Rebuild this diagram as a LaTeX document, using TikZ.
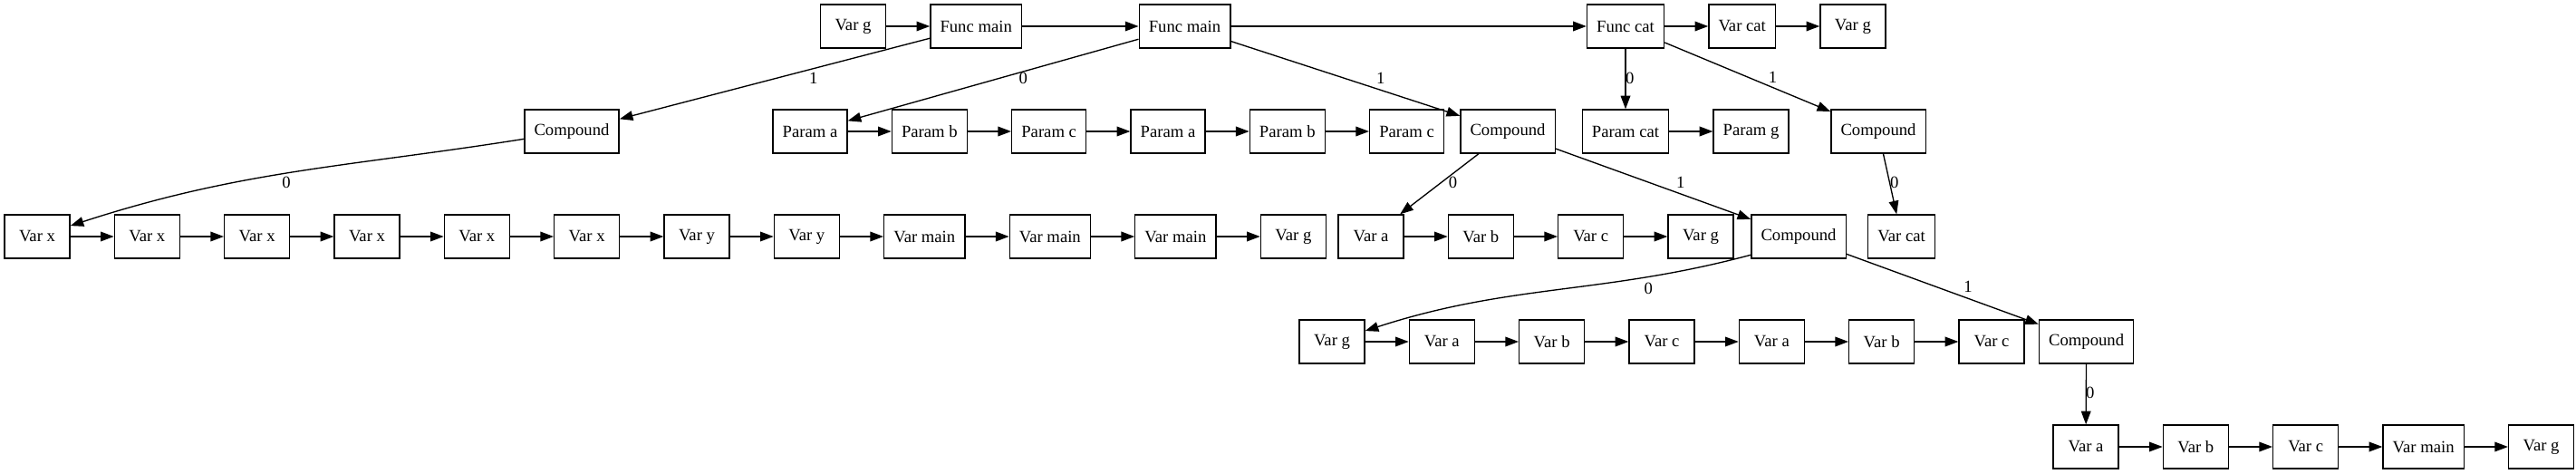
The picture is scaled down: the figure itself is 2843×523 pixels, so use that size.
\documentclass[tikz,border=0pt]{standalone}
\usepackage{fontspec}
\setmainfont{Liberation Serif}
\usetikzlibrary{positioning,arrows.meta}

\begin{document}
\begin{tikzpicture}[x=0.75pt, y=-0.75pt, line width=1pt, node distance=36pt,
  font=\fontsize{14}{17}\selectfont,
  box/.style={draw, rectangle, minimum width=54pt, minimum height=36pt, inner xsep=8pt},
  lbl/.style={inner sep=0pt},
  >={Triangle[length=11pt,width=8pt]}]
 \useasboundingbox (0,0) rectangle (2843,523);
 % row 1
 \node[box] (vg0) at (941.5,29) {Var g};
 \node[box, right=of vg0] (fm1) {Func main};
 \node[box] (fm2) at (1307.5,29) {Func main};
 \node[box] (fcat) at (1794,29) {Func cat};
 \node[box, right=of fcat] (vcat0) {Var cat};
 \node[box, right=of vcat0] (vg1) {Var g};
 % row 2
 \node[box] (cpd0) at (631,145) {Compound};
 \node[box] (pa0) at (894,145) {Param a};
 \node[box, right=of pa0] (pb0) {Param b};
 \node[box, right=of pb0] (pc0) {Param c};
 \node[box, right=of pc0] (pa1) {Param a};
 \node[box, right=of pa1] (pb1) {Param b};
 \node[box, right=of pb1] (pc1) {Param c};
 \node[box] (cpd1) at (1664,145) {Compound};
 \node[box] (pcat) at (1794,145) {Param cat};
 \node[box, right=of pcat] (pg) {Param g};
 \node[box] (cpd2) at (2073,145) {Compound};
 % row 3
 \node[box] (vx0) at (41,261) {Var x};
 \node[box, right=of vx0] (vx1) {Var x};
 \node[box, right=of vx1] (vx2) {Var x};
 \node[box, right=of vx2] (vx3) {Var x};
 \node[box, right=of vx3] (vx4) {Var x};
 \node[box, right=of vx4] (vx5) {Var x};
 \node[box, right=of vx5] (vy0) {Var y};
 \node[box, right=of vy0] (vy1) {Var y};
 \node[box, right=of vy1] (vm0) {Var main};
 \node[box, right=of vm0] (vm1) {Var main};
 \node[box, right=of vm1] (vm2) {Var main};
 \node[box, right=of vm2] (vg2) {Var g};
 \node[box] (va0) at (1513,261) {Var a};
 \node[box, right=of va0] (vb0) {Var b};
 \node[box, right=of vb0] (vc0) {Var c};
 \node[box, right=of vc0] (vg3) {Var g};
 \node[box] (cpd3) at (1985,261) {Compound};
 \node[box] (vcat1) at (2098.6,261) {Var cat};
 % row 4
 \node[box] (vg4) at (1470,377) {Var g};
 \node[box, right=of vg4] (va1) {Var a};
 \node[box, right=of va1] (vb1) {Var b};
 \node[box, right=of vb1] (vc1) {Var c};
 \node[box, right=of vc1] (va2) {Var a};
 \node[box, right=of va2] (vb2) {Var b};
 \node[box, right=of vb2] (vc2) {Var c};
 \node[box] (cpd4) at (2302.6,377) {Compound};
 % row 5
 \node[box] (va3) at (2302,493) {Var a};
 \node[box, right=of va3] (vb3) {Var b};
 \node[box, right=of vb3] (vc3) {Var c};
 \node[box, right=of vc3] (vm3) {Var main};
 \node[box, right=of vm3] (vg5) {Var g};

 % branches
 \path (fm1) edge[->] node[lbl, pos=.5, xshift=32pt] {1} (cpd0)
 (cpd0) edge[->, out=189, in=18] node[lbl, pos=.52, yshift=-7.5pt] {0} (vx0)
 (fm2) edge[->] node[lbl, pos=.48, xshift=20pt] {0} (pa0)
 edge[->] node[lbl, pos=.49, xshift=31pt] {1} (cpd1)
 (fcat) edge[->] node[lbl, pos=.49, xshift=3.5pt] {0} (pcat)
 edge[->] node[lbl, pos=.51, xshift=19.5pt] {1} (cpd2)
 (cpd1) edge[->] node[lbl, pos=.48, xshift=10pt] {0} (va0)
 edge[->] node[lbl, pos=.48, xshift=26pt] {1} (cpd3)
 (cpd2) edge[->] node[lbl, pos=.48, xshift=4pt] {0} (vcat1)
 (cpd3.201) edge[->, out=195, in=18] node[lbl, pos=.25, yshift=-9.5pt] {0} (vg4)
 (cpd3) edge[->] node[lbl, pos=.47, xshift=26pt] {1} (cpd4)
 (cpd4) edge[->] node[lbl, pos=.47, xshift=3.4pt] {0} (va3);

 % chains
 \path (vg0) edge[->] (fm1)
 (fm1) edge[->] (fm2)
 (fm2) edge[->] (fcat)
 (fcat) edge[->] (vcat0)
 (vcat0) edge[->] (vg1);
 \path (pa0) edge[->] (pb0)
 (pb0) edge[->] (pc0)
 (pc0) edge[->] (pa1)
 (pa1) edge[->] (pb1)
 (pb1) edge[->] (pc1)
 (pcat) edge[->] (pg);
 \path (vx0) edge[->] (vx1)
 (vx1) edge[->] (vx2)
 (vx2) edge[->] (vx3)
 (vx3) edge[->] (vx4)
 (vx4) edge[->] (vx5)
 (vx5) edge[->] (vy0)
 (vy0) edge[->] (vy1)
 (vy1) edge[->] (vm0)
 (vm0) edge[->] (vm1)
 (vm1) edge[->] (vm2)
 (vm2) edge[->] (vg2);
 \path (va0) edge[->] (vb0)
 (vb0) edge[->] (vc0)
 (vc0) edge[->] (vg3);
 \path (vg4) edge[->] (va1)
 (va1) edge[->] (vb1)
 (vb1) edge[->] (vc1)
 (vc1) edge[->] (va2)
 (va2) edge[->] (vb2)
 (vb2) edge[->] (vc2);
 \path (va3) edge[->] (vb3)
 (vb3) edge[->] (vc3)
 (vc3) edge[->] (vm3)
 (vm3) edge[->] (vg5);
\end{tikzpicture}
\end{document}
